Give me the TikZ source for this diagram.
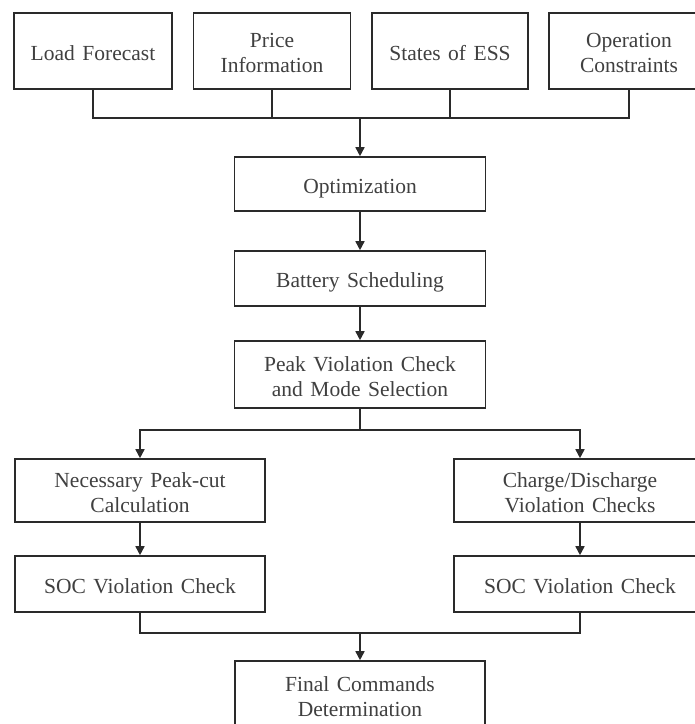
\documentclass[tikz,border=0pt]{standalone}
\usepackage{fontspec}
\setmainfont{Liberation Serif}[WordSpace=1.4]
\usetikzlibrary{arrows.meta}
\definecolor{linegray}{HTML}{2A2A2A}
\definecolor{textgray}{HTML}{404040}
% centred, slightly lowered block of lines for the box captions
\newcommand\boxtext[1]{\raisebox{-4pt}[\height][\depth]{\begin{tabular}{@{}c@{}}#1\end{tabular}}}
\begin{document}
\begin{tikzpicture}[x=1pt,y=-1pt,
  box/.style={draw=linegray, line width=1.6pt, fill=white, text=textgray,
    inner sep=0pt, minimum width=#1,
    font=\fontsize{21.5pt}{25pt}\selectfont},
  box/.default=251pt,
  link/.style={draw=linegray, line width=1.6pt},
  arrow/.style={link, -{Triangle[length=9pt,width=9pt]}}]
\useasboundingbox (0,0) rectangle (695,724);
\clip (0,0) rectangle (695,724);

% inputs
\node[box=158pt, minimum height=76pt] (load)  at (93,51)  {\boxtext{Load Forecast}};
\node[box=157pt, minimum height=76pt] (price) at (272,51) {\boxtext{Price\\Information}};
\node[box=156pt, minimum height=76pt] (ess)   at (450,51) {\boxtext{States of ESS}};
\node[box=160pt, minimum height=76pt] (ops)   at (629,51) {\boxtext{Operation\\Constraints}};

% main chain
\node[box, minimum height=54pt] (opt)   at (360,184)   {\boxtext{Optimization}};
\node[box, minimum height=55pt] (sched) at (360,278.5) {\boxtext{Battery Scheduling}};
\node[box, minimum height=67pt] (peak)  at (360,374.5) {\boxtext{Peak Violation Check\\and Mode Selection}};

% branches
\node[box=250pt, minimum height=63pt] (nec)  at (140,490.5) {\boxtext{Necessary Peak-cut\\Calculation}};
\node[box=250pt, minimum height=56pt] (socL) at (140,584)   {\boxtext{SOC Violation Check}};
\node[box=252pt, minimum height=63pt] (chg)  at (580,490.5) {\boxtext{Charge/Discharge\\Violation Checks}};
\node[box=252pt, minimum height=56pt] (socR) at (580,584)   {\boxtext{SOC Violation Check}};

\node[box=250pt, minimum height=68pt] (final) at (360,695) {\boxtext{Final Commands\\Determination}};

% junction points
\coordinate (bus)   at (360,118);
\coordinate (split) at (360,430);
\coordinate (merge) at (360,633);

% collect inputs
\draw[link] (load.south) |- (bus) -| (ops.south);
\draw[link] (price.south) -- (price.south |- bus);
\draw[link] (ess.south) -- (ess.south |- bus);
\draw[arrow] (bus) -- (opt.north);

\draw[arrow] (opt.south) -- (sched.north);
\draw[arrow] (sched.south) -- (peak.north);

% split into two modes
\draw[link] (peak.south) -- (split);
\draw[arrow] (split) -| (nec.north);
\draw[arrow] (split) -| (chg.north);

\draw[arrow] (nec.south) -- (socL.north);
\draw[arrow] (chg.south) -- (socR.north);

% merge
\draw[link] (socL.south) |- (merge) -| (socR.south);
\draw[arrow] (merge) -- (final.north);
\end{tikzpicture}
\end{document}
